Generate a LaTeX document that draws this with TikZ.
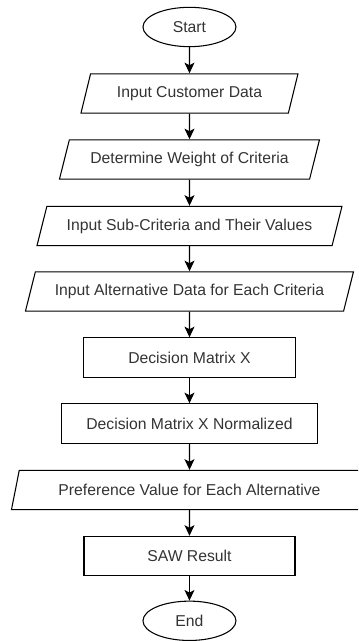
\documentclass[tikz,border=0pt]{standalone}
\usepackage{fontspec}
\setmainfont{Liberation Sans}
\usetikzlibrary{shapes.geometric,arrows.meta}

\tikzset{
  startstop/.style={ellipse, draw, minimum width=69.75pt, minimum height=29.5pt, inner sep=0pt},
  io/.style={trapezium, trapezium left angle=56, trapezium right angle=124, trapezium stretches body,
    draw, minimum height=29.5pt, inner sep=0pt},
  process/.style={rectangle, draw, minimum height=29.5pt, inner sep=0pt},
  arr/.style={-{Stealth[length=8pt,width=7.5pt,inset=2pt]}}
}

\begin{document}
\begin{tikzpicture}[line width=0.8pt, font=\fontsize{11.8}{14}\selectfont, text=black!80]
\clip (0,0) rectangle (268.5pt,-480.75pt);
\node[startstop] (start) at (142.1pt,-20.25pt) {Start};
\node[io, minimum width=162.75pt] (cust) at (142.1pt,-70.1pt) {Input Customer Data};
\node[io, minimum width=195pt] (weight) at (142.1pt,-119.6pt) {Determine Weight of Criteria};
\node[io, minimum width=228.75pt] (sub) at (142.1pt,-169.5pt) {Input Sub-Criteria and Their Values};
\node[io, minimum width=246pt] (alt) at (142.1pt,-218.6pt) {Input Alternative Data for Each Criteria};
\node[process, minimum width=159pt] (matrix) at (142.1pt,-268.1pt) {Decision Matrix X};
\node[process, minimum width=192pt] (norm) at (142.1pt,-317.6pt) {Decision Matrix X Normalized};
\node[io, minimum width=267pt] (pref) at (142.1pt,-367.5pt) {Preference Value for Each Alternative};
\node[process, minimum width=158.25pt] (result) at (142.1pt,-417pt) {SAW Result};
\node[startstop] (end) at (142.1pt,-465.6pt) {End};

\draw[arr] (start) -- (cust);
\draw[arr] (cust) -- (weight);
\draw[arr] (weight) -- (sub);
\draw[arr] (sub) -- (alt);
\draw[arr] (alt) -- (matrix);
\draw[arr] (matrix) -- (norm);
\draw[arr] (norm) -- (pref);
\draw[arr] (pref) -- (result);
\draw[arr] (result) -- (end);
\end{tikzpicture}
\end{document}
